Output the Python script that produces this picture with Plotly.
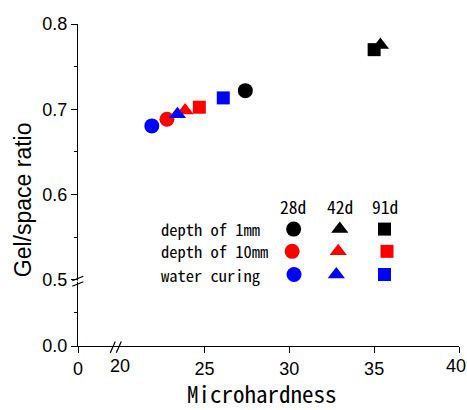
import plotly.graph_objects as go

# ---- data ----
ages = ["28d", "42d", "91d"]
series_names = ["depth of 1mm", "depth of 10mm", "water curing"]
hardness_1mm = [27.41, 35.37, 35.00]
ratio_1mm = [0.7218, 0.7754, 0.7699]
hardness_10mm = [22.79, 23.86, 24.70]
ratio_10mm = [0.6883, 0.6984, 0.7024]
hardness_water = [21.90, 23.41, 26.11]
ratio_water = [0.6805, 0.6942, 0.7133]

x_tick_labels = ["0", "20", "25", "30", "35", "40"]
y_tick_labels = ["0.0", "0.5", "0.6", "0.7", "0.8"]

# ---- styling / layout constants ----
colors = ["#000000", "#ff0000", "#0000ff"]
symbols = ["circle", "triangle-up", "square"]
sizes = [15, 15, 13]
X0 = 17.55   # display position of x = 0 (broken axis)
Y0 = 0.4223  # display position of y = 0.0 (broken axis)
TICKFONT = dict(family="Liberation Sans Narrow, Arial Narrow, Liberation Sans, sans-serif", size=18, color="black")
MONO = "Noto Sans Mono CJK JP, MS Gothic, Liberation Sans Narrow, sans-serif"

fig = go.Figure()

xs = [hardness_1mm, hardness_10mm, hardness_water]
ys = [ratio_1mm, ratio_10mm, ratio_water]
for name, x, y, c in zip(series_names, xs, ys, colors):
    fig.add_trace(go.Scatter(
        x=x, y=y, mode="markers", name=name, showlegend=False,
        marker=dict(color=c, symbol=symbols, size=sizes, opacity=1, line=dict(width=0)),
        hovertext=ages,
    ))

# ---- custom in-plot legend (paper-fraction axes) ----
leg_cols = [[0.566, 0.687, 0.8045], [0.562, 0.683, 0.811], [0.567, 0.678, 0.8045]]
leg_rows = [0.363, 0.294, 0.222]
for i, (name, c) in enumerate(zip(series_names, colors)):
    fig.add_trace(go.Scatter(
        x=leg_cols[i], y=[leg_rows[i]] * 3, mode="markers", showlegend=False,
        marker=dict(color=c, symbol=symbols, size=sizes, opacity=1, line=dict(width=0)),
        xaxis="x2", yaxis="y2", hoverinfo="skip",
    ))
    fig.add_annotation(x=0.212, y=leg_rows[i], xref="paper", yref="paper",
                       text=name, showarrow=False, xanchor="left", yanchor="middle",
                       font=dict(family=MONO, size=16.5, color="black"))
for a, xc in zip(ages, [0.565, 0.687, 0.805]):
    fig.add_annotation(x=xc, y=0.432, xref="paper", yref="paper", text=a,
                       showarrow=False, xanchor="center", yanchor="middle",
                       font=dict(family=MONO, size=17.5, color="black"))

# axis titles
fig.add_annotation(x=0.4817, y=-0.162, xref="paper", yref="paper", text="Microhardness",
                   showarrow=False, xanchor="center", yanchor="middle", yshift=5,
                   font=dict(family=MONO, size=23, color="black"))
fig.add_annotation(x=-0.146, y=0.454, xref="paper", yref="paper", text="Gel/space ratio",
                   showarrow=False, xanchor="center", yanchor="middle", textangle=-90,
                   font=dict(family="Liberation Sans, Arial, sans-serif", size=23, color="black"))

# "20" label (no tick at the break) and "40" label (at right edge)
for val, lab, dx in [(20, x_tick_labels[1], 0), (40, x_tick_labels[5], -3)]:
    fig.add_annotation(x=val, y=0, xref="x", yref="paper", text=lab, showarrow=False,
                       xanchor="center", yanchor="top", yshift=-8, xshift=dx, font=TICKFONT)

# break marks
brk = dict(color="black", width=1.2)
fig.add_shape(type="line", xref="paper", yref="paper", x0=0.0846, y0=-0.0217, x1=0.0977, y1=0.0143, line=brk)
fig.add_shape(type="line", xref="paper", yref="paper", x0=0.1005, y0=-0.0208, x1=0.1136, y1=0.0143, line=brk)
fig.add_shape(type="line", xref="paper", yref="paper", x0=0.0, y0=0.1995, x1=0.0, y1=0.2030,
              line=dict(color="white", width=3))
fig.add_shape(type="line", xref="paper", yref="paper", x0=-0.0149, y0=0.2026, x1=0.0139, y1=0.2166, line=brk)
fig.add_shape(type="line", xref="paper", yref="paper", x0=-0.0149, y0=0.1855, x1=0.0139, y1=0.1995, line=brk)

fig.update_layout(
    width=467, height=410,
    margin=dict(l=78, r=8, t=24, b=64),
    plot_bgcolor="white", paper_bgcolor="white",
    xaxis=dict(range=[X0, 40], showline=True, linecolor="black", linewidth=1,
               tickmode="array", tickvals=[X0, 25, 30, 35, 40],
               ticktext=[x_tick_labels[0]] + x_tick_labels[2:5] + [""],
               ticks="outside", ticklen=6, tickcolor="black", tickwidth=1,
               showgrid=False, zeroline=False, tickfont=TICKFONT, mirror=False),
    yaxis=dict(range=[Y0, 0.8], showline=True, linecolor="black", linewidth=1,
               tickmode="array", tickvals=[Y0, 0.5, 0.6, 0.7, 0.8], ticktext=y_tick_labels,
               ticks="outside", ticklen=6, tickcolor="black", tickwidth=1,
               minor=dict(tickmode="array", tickvals=[(Y0 + 0.5) / 2, 0.55, 0.65, 0.75],
                          ticks="outside", ticklen=3, tickcolor="black"),
               showgrid=False, zeroline=False, tickfont=TICKFONT),
    xaxis2=dict(range=[0, 1], overlaying="x", visible=False, fixedrange=True),
    yaxis2=dict(range=[0, 1], overlaying="y", visible=False, fixedrange=True),
)

fig.write_html("out.html")
